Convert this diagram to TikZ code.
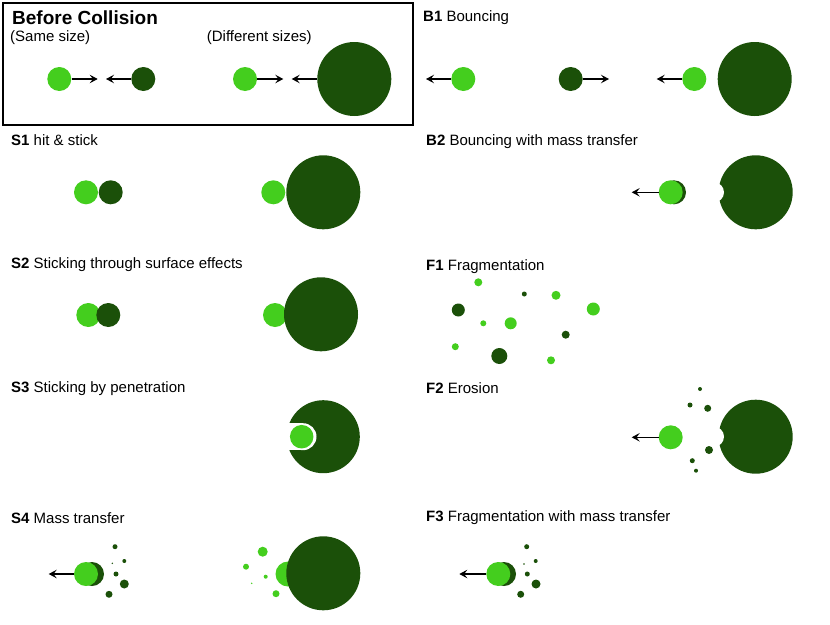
\documentclass[tikz,border=0pt]{standalone}
\usepackage{fontspec}
\setmainfont{Liberation Sans}
\usetikzlibrary{arrows.meta}
\definecolor{lg}{RGB}{68,206,30}
\definecolor{dg}{RGB}{27,80,9}
\begin{document}
\begin{tikzpicture}[x=1pt,y=-1pt,
  lball/.style={circle,fill=lg,inner sep=0pt,minimum size=#1},
  dball/.style={circle,fill=dg,inner sep=0pt,minimum size=#1},
  arr/.style={-{Stealth[length=8pt,width=8.5pt,inset=3.2pt]},line width=1.3pt,black},
  lbl/.style={anchor=base west,inner sep=0pt,font=\fontsize{15}{18}\selectfont},
  notch/.style={fill=white}]
\useasboundingbox (0,0) rectangle (830,624);

% ---------- Before collision box ----------
\draw[line width=2pt] (3,2.5) rectangle (413,125);
\node[anchor=base west,inner sep=0pt,font=\fontsize{19}{22}\selectfont\bfseries] (t0) at (12,24) {Before Collision};
\node[lbl] (t0a) at (10,41.7) {(Same size)};
\node[lbl] (t0b) at (206.7,41.7) {(Different sizes)};
\node[lball=24pt] (a1) at (59.3,79) {};
\node[dball=24pt] (a2) at (143.3,79) {};
\node[lball=24pt] (a3) at (245,79) {};
\node[dball=74pt] (a4) at (354.3,79) {};
\coordinate (a1t) at (97.7,79);
\coordinate (a2t) at (106,79);
\coordinate (a3t) at (283.3,79);
\coordinate (a4t) at (291.7,79);
\draw[arr] (a1) -- (a1t);
\draw[arr] (a2) -- (a2t);
\draw[arr] (a3) -- (a3t);
\draw[arr] (a4) -- (a4t);

% ---------- B1 ----------
\node[lbl] (tb1) at (423,21) {\textbf{B1} Bouncing};
\node[lball=24pt] (b1) at (463.3,79) {};
\node[dball=24pt] (b2) at (570.7,79) {};
\node[lball=24pt] (b3) at (694.3,79) {};
\node[dball=74pt] (b4) at (754.7,79) {};
\coordinate (b1t) at (426,79);
\coordinate (b2t) at (609,79);
\coordinate (b3t) at (656.7,79);
\draw[arr] (b1) -- (b1t);
\draw[arr] (b2) -- (b2t);
\draw[arr] (b3) -- (b3t);

% ---------- S1 ----------
\node[lbl] (ts1) at (11,145) {\textbf{S1} hit \& stick};
\node[lball=24pt] (c1) at (86,192.3) {};
\node[dball=24pt] (c2) at (110.7,192.3) {};
\node[lball=24pt] (c3) at (273.3,192.3) {};
\node[dball=74pt] (c4) at (323.3,192.3) {};

% ---------- B2 ----------
\node[lbl] (tb2) at (426,145) {\textbf{B2} Bouncing with mass transfer};
\node[dball=24pt] (d0) at (674,192.3) {};
\node[lball=24pt] (d1) at (670.7,192.3) {};
\coordinate (d1t) at (631.7,192.3);
\draw[arr] (d1) -- (d1t);
\node[dball=74pt] (d2) at (755.7,192.3) {};
\fill[notch] (714,192.3) circle[radius=10pt];

% ---------- S2 ----------
\node[lbl] (ts2) at (11,268) {\textbf{S2} Sticking through surface effects};
\node[lball=24pt] (e1) at (88.3,315) {};
\node[dball=24pt] (e2) at (108.3,315) {};
\node[lball=24pt] (e3) at (275,315) {};
\node[dball=74pt] (e4) at (321,314.3) {};

% ---------- F1 ----------
\node[lbl] (tf1) at (426,270) {\textbf{F1} Fragmentation};
\foreach \x/\y/\r in {478.3/282.3/4, 556/295.3/4.5, 593.3/309/6.5, 483.3/323.3/3, 510.7/323.3/6, 455.3/346.7/3.5, 551/360.3/4}
  \fill[lg] (\x,\y) circle[radius=\r pt];
\foreach \x/\y/\r in {524.3/294/2.5, 458.3/310/6.5, 565.7/334.7/4, 499.3/356/8}
  \fill[dg] (\x,\y) circle[radius=\r pt];

% ---------- S3 ----------
\node[lbl] (ts3) at (11,392) {\textbf{S3} Sticking by penetration};
\node[dball=73pt] (g1) at (323.3,436.7) {};
\fill[notch] (280,423.2) rectangle (303,450.2);
\fill[notch] (303,436.7) circle[radius=13.5pt];
\node[lball=23.5pt] (g2) at (301.7,436.7) {};

% ---------- F2 ----------
\node[lbl] (tf2) at (426,393) {\textbf{F2} Erosion};
\node[lball=24pt] (h1) at (670.7,437.3) {};
\coordinate (h1t) at (631.7,437.3);
\draw[arr] (h1) -- (h1t);
\node[dball=74pt] (h2) at (755.7,436.7) {};
\fill[notch] (714,436.7) circle[radius=10pt];
\foreach \x/\y/\r in {700/389/2, 690/405/2.5, 707.7/408.3/3.5, 709/450/4, 692.3/460.7/2.5, 696/470.7/2}
  \fill[dg] (\x,\y) circle[radius=\r pt];

% ---------- S4 ----------
\node[lbl] (ts4) at (11,523) {\textbf{S4} Mass transfer};
\node[dball=24pt] (k0) at (92,574) {};
\node[lball=24pt] (k1) at (86,574) {};
\coordinate (k1t) at (48.7,574);
\draw[arr] (k1) -- (k1t);
\foreach \x/\y/\r in {115/546.7/2.5, 124.3/561/2, 112.3/563.3/0.8, 116/574/2.5, 124.3/584/4.5, 109/594.3/3.5}
  \fill[dg] (\x,\y) circle[radius=\r pt];
\node[lball=25pt] (k2) at (288,574) {};
\node[dball=74pt] (k3) at (323.3,573.3) {};
\foreach \x/\y/\r in {262.7/551.7/5, 246/566.7/3, 265.7/576.7/2, 251.7/583.3/0.8, 276/593.7/3.5}
  \fill[lg] (\x,\y) circle[radius=\r pt];

% ---------- F3 ----------
\node[lbl] (tf3) at (426,521) {\textbf{F3} Fragmentation with mass transfer};
\node[dball=24pt] (m0) at (504,574) {};
\node[lball=24pt] (m1) at (498.3,574) {};
\coordinate (m1t) at (459.3,574);
\draw[arr] (m1) -- (m1t);
\foreach \x/\y/\r in {526.7/546.7/2.5, 535.7/561/2, 524/564/0.8, 527.3/574/2.5, 536/584/4.5, 520.7/594.3/3.5}
  \fill[dg] (\x,\y) circle[radius=\r pt];
\end{tikzpicture}
\end{document}
